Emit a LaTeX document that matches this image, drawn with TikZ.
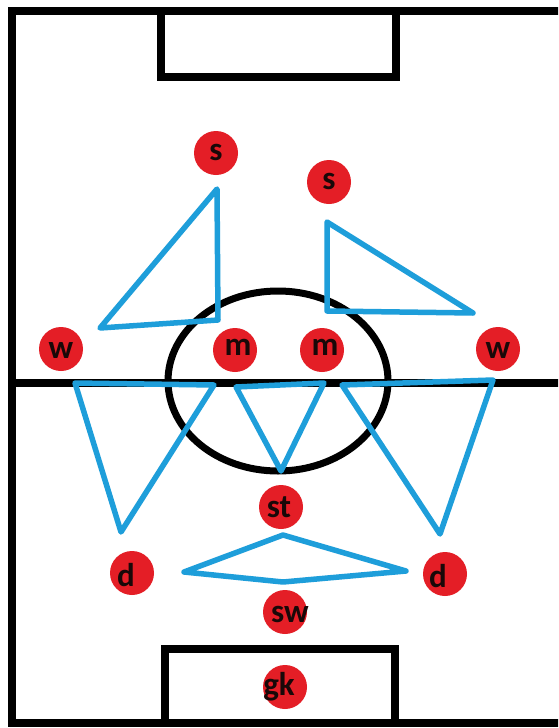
\documentclass[tikz,border=0pt]{standalone}
\usepackage{fontspec}
\setmainfont{Carlito}
\definecolor{pred}{RGB}{228,30,38}
\definecolor{pblue}{RGB}{30,158,218}
\definecolor{ptext}{RGB}{25,8,8}
\tikzset{
  fieldline/.style={draw=black, line width=7.5pt, line join=miter},
  tri/.style={draw=pblue, line width=5.5pt, line join=round, line cap=round},
  player/.style={circle, fill=pred, minimum size=44pt, inner sep=0pt},
  lbl/.style={text=ptext, font=\fontsize{33}{33}\selectfont\bfseries, inner sep=0pt}
}
\begin{document}
\begin{tikzpicture}[x=1pt, y=-1pt]
\useasboundingbox (0,0) rectangle (558,728);
\fill[white] (0,0) rectangle (558,728);
\begin{scope}
\clip (0,0) rectangle (558,728);
% outer field
\draw[fieldline] (580,11) -- (12,11) -- (12,723) -- (580,723);
% half-way line
\draw[fieldline] (12,383) -- (580,383);
% goal boxes
\draw[fieldline] (161,11) -- (161,77) -- (396,77) -- (396,11);
\draw[fieldline] (165,723) -- (165,649) -- (395,649) -- (395,723);
% centre circle
\draw[black, line width=7pt] (278,381) ellipse [x radius=110, y radius=90];
\end{scope}
% blue triangles
\draw[tri] (217,189) -- (100,328) -- (218,320) -- cycle;
\draw[tri] (327,222) -- (327,311) -- (473,313) -- cycle;
\draw[tri] (75,383) -- (214,385) -- (121,532) -- cycle;
\draw[tri] (236,387) -- (324,383) -- (281,471) -- cycle;
\draw[tri] (342,385) -- (493,380) -- (440,534) -- cycle;
\draw[tri] (184,572) -- (283,535) -- (406,571) -- (283,582) -- cycle;
% players
\node[player, label={[lbl, yshift=1pt]center:s}] (s1) at (216,153) {};
\node[player, label={[lbl, yshift=1pt]center:s}] (s2) at (329,182) {};
\node[player, label={[lbl, yshift=-1pt]center:w}] (wl) at (61,349) {};
\node[player, label={[lbl, xshift=3pt, yshift=3pt]center:m}] (m1) at (235,350) {};
\node[player, label={[lbl, xshift=3pt, yshift=3pt]center:m}] (m2) at (322,350) {};
\node[player, label={[lbl, yshift=-1pt]center:w}] (wr) at (498,349) {};
\node[player, label={[lbl, xshift=-2pt]center:st}] (st) at (281,507) {};
\node[player, label={[lbl, xshift=-6pt, yshift=-2pt]center:d}] (dl) at (132,573) {};
\node[player, label={[lbl, xshift=-7pt, yshift=-2pt]center:d}] (dr) at (445,574) {};
\node[player, label={[lbl, xshift=5pt, yshift=-2pt]center:sw}] (sw) at (285,612) {};
\node[player, label={[lbl, xshift=-6pt]center:gk}] (gk) at (285,687) {};
\end{tikzpicture}
\end{document}
